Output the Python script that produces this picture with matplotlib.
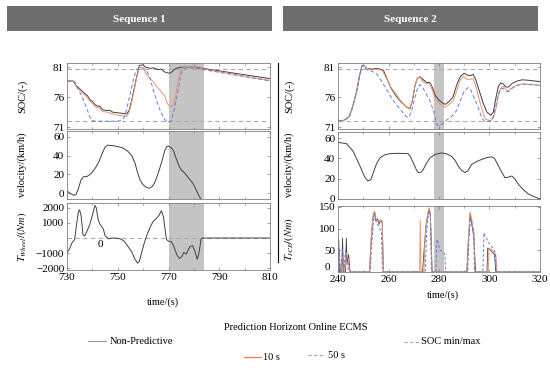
import matplotlib
matplotlib.use("Agg")
from matplotlib import pyplot
from matplotlib.lines import Line2D
from matplotlib.patches import Rectangle
import matplotlib.ticker as ticker

pyplot.rcParams['font.family'] = ['Liberation Serif', 'DejaVu Serif']
pyplot.rcParams['mathtext.fontset'] = 'stix'

# ---- Sequence 1 ----
s1_soc_np_t = [730, 732.5, 733.5, 735, 736, 737, 738, 739, 740, 741, 742, 743, 744, 745.5, 747, 748, 750, 752, 753.5,
               754.5, 755.5, 756.5, 757.5, 758.5, 760, 761, 763, 764, 766, 767, 768.5, 770, 771, 772, 773, 775, 778,
               781, 782, 810]
s1_soc_np = [78.7, 78.7, 78.0, 77.4, 77.0, 76.6, 76.3, 75.6, 75.3, 74.8, 74.5, 74.5, 73.9, 73.8, 73.8, 73.5, 73.4, 73.3,
             73.2, 73.8, 75.5, 77.5, 79.5, 81.3, 81.4, 81.0, 80.8, 80.9, 80.6, 80.7, 80.2, 80.0, 80.1, 80.5, 80.8, 81.0,
             81.0, 81.0, 80.9, 79.1]
s1_soc_10_t = [730, 733, 733.5, 735, 737, 739, 741, 742, 743, 744, 746, 748, 750, 752, 753.5, 754.5, 755.5, 756.5,
               757.5, 758.5, 760, 761, 762.5, 764, 765.5, 767, 768.5, 769.5, 770.5, 771.5, 772.5, 773.5, 774.5, 775.5,
               778, 781, 810]
s1_soc_10 = [78.7, 78.6, 77.9, 77.2, 76.4, 75.4, 74.5, 74.2, 74.2, 73.6, 73.5, 73.2, 73.0, 72.9, 72.8, 73.5, 75.2, 77.2,
             79.3, 80.9, 81.0, 80.0, 79.2, 78.6, 77.7, 77.0, 76.2, 75.0, 74.4, 74.5, 75.5, 78.0, 80.0, 80.9, 81.0, 80.9,
             78.8]
s1_soc_50_t = [730, 733, 734, 735.5, 737, 738.5, 739.5, 741, 746, 750, 751.5, 752.5, 753.5, 755, 756.5, 757.5, 761,
               762.5, 764, 765.5, 767, 768.5, 769.5, 771, 772, 773.5, 775, 776, 778, 781, 810]
s1_soc_50 = [78.7, 78.6, 77.6, 76.5, 75.0, 73.3, 72.2, 72.0, 72.0, 72.0, 72.2, 72.6, 74.0, 76.8, 79.5, 80.7, 80.7, 79.5,
             77.2, 75.2, 73.5, 72.3, 71.8, 72.0, 73.5, 76.5, 80.0, 80.8, 80.9, 80.8, 78.7]
s1_vel_t = [730, 731, 732.5, 733.5, 734.5, 735.5, 736.5, 738, 739.5, 741, 742.5, 744, 745, 746, 748, 750, 752, 754,
            755.5, 756.8, 757.8, 758.8, 760, 761.5, 762.5, 763.5, 764.5, 765.5, 766.5, 767.5, 768.5, 769.3, 770, 771,
            772, 773, 774, 775, 776.5, 778, 779.5, 780.5, 781.5, 782.5, 783]
s1_vel = [2.5, 0.5, -2.0, -1.5, 5, 14, 17.5, 18, 21, 26, 33, 43, 49, 51, 50.5, 49.5, 48, 44.5, 40, 32, 22, 14, 9, 6,
          5.5, 7, 11, 18, 26, 35, 45, 49.5, 50, 48.5, 45, 37, 30, 25, 21, 16, 11, 6, 0, -5, -7]
s1_trq_t = [730, 731, 732, 733, 733.7, 734.5, 735, 735.6, 736.3, 737, 738, 739, 740, 741, 741.5, 742.3, 743, 744.3,
            745, 746.3, 748, 749, 751, 752.5, 754, 755.5, 756.8, 757.8, 758.5, 759.5, 760.5, 761.5, 763, 764, 765,
            766.3, 767.2, 768, 768.7, 769.2, 770, 771.2, 772.2, 773.3, 774.3, 775.3, 776, 777, 777.6, 778.5, 779.5,
            780.5, 781.3, 782, 782.8, 783.3, 810]
s1_trq = [-1000, -700, -300, -100, 800, 1750, 1850, 1400, 200, 150, 500, 900, 1500, 2150, 2000, 1200, 900, 600, 150,
          -50, 0, 0, -50, -200, -550, -900, -1400, -1650, -1550, -900, -300, 200, 800, 1100, 1250, 1500, 1800, 1400,
          500, -100, -200, -250, -600, -1100, -1350, -1200, -950, -1050, -850, -550, -500, -900, -1400, -1000, -100,
          0, 0]
s1_span = (770, 784)
s1_xticks = [730, 750, 770, 790, 810]

# ---- Sequence 2 ----
s2_soc_np_t = [240, 242, 243, 244.5, 245.5, 246.5, 247.5, 248.5, 249.5, 250.5, 251.5, 252.5, 253.5, 254.5, 256.5, 258,
               259.5, 261, 263, 265, 267, 268.5, 269.5, 270.5, 271.5, 272.5, 273.5, 275, 276.5, 277.5, 278.5, 280,
               281.5, 282.5, 284, 285.5, 287, 288.5, 290, 291, 292.5, 293.5, 294.5, 296, 297.5, 299, 300.5, 301.5,
               302.5, 303.5, 304.5, 305.5, 306.5, 307.5, 309, 311, 313, 316, 320]
s2_soc_np = [72.1, 72.1, 72.3, 72.8, 74.0, 75.5, 77.2, 79.5, 81.3, 81.2, 80.6, 80.8, 80.6, 80.8, 80.7, 80.5, 79.0, 77.5,
             76.2, 75.2, 74.4, 74.1, 75.5, 78.0, 79.2, 79.4, 79.0, 78.5, 78.4, 77.5, 76.3, 75.5, 75.0, 74.8, 75.3, 76.0,
             78.0, 79.5, 80.0, 79.7, 79.6, 79.8, 79.0, 77.0, 75.0, 73.5, 73.0, 73.5, 75.8, 77.8, 78.4, 78.2, 77.7, 77.7,
             78.3, 78.7, 78.9, 78.8, 78.6]
s2_soc_10_t = [240, 242, 243, 244.5, 245.5, 246.5, 247.5, 248.5, 249.5, 250.5, 251.5, 252.5, 254, 256, 257.5, 259, 261,
               263, 265, 267, 268.3, 269.5, 270.5, 271.5, 272.5, 273.5, 275, 276.5, 277.5, 278.5, 280, 281.5, 282.5,
               284, 285.5, 287, 288.5, 289.8, 291, 292.5, 293.5, 294.5, 296, 297.5, 298.5, 300.5, 301.5, 302.5, 303.5,
               304.5, 305.5, 306.5, 307.5, 309, 311, 313, 316, 320]
s2_soc_10 = [72.1, 72.1, 72.3, 72.8, 74.0, 75.5, 77.2, 79.5, 81.3, 81.2, 80.6, 80.7, 80.7, 80.6, 80.5, 79.3, 77.6, 76.5,
             75.3, 74.4, 74.0, 75.5, 78.0, 79.2, 79.3, 78.6, 78.3, 78.2, 77.0, 75.8, 75.0, 74.5, 74.3, 74.8, 75.4, 77.0,
             79.0, 79.5, 79.0, 79.0, 79.1, 78.0, 75.5, 73.3, 72.3, 72.1, 72.5, 74.0, 76.2, 77.5, 77.8, 77.3, 77.0, 77.6,
             78.0, 78.2, 78.1, 78.0]
s2_soc_50_t = [240, 242, 243, 244.5, 245.5, 246.5, 247.5, 248.5, 249.5, 250.5, 251.5, 253, 254, 255.5, 257, 259, 261,
               263, 265, 267, 268, 269, 270.5, 271.5, 272.5, 273.5, 275, 276.5, 278, 279, 280, 281.5, 283, 285, 287,
               288.5, 290, 291.5, 292.5, 294, 295.5, 297, 298, 300.5, 301.5, 302.5, 303.5, 304.5, 305.5, 306.5, 307.5,
               309, 311, 313, 316, 320]
s2_soc_50 = [72.1, 72.1, 72.3, 72.8, 74.0, 75.5, 77.2, 79.5, 81.3, 81.2, 80.6, 80.4, 80.2, 79.8, 78.8, 77.5, 76.0, 74.8,
             73.8, 72.8, 72.6, 73.5, 76.0, 77.5, 78.1, 77.6, 76.5, 75.3, 73.5, 71.5, 71.2, 71.6, 72.2, 72.8, 73.8, 75.5,
             77.0, 77.6, 77.3, 75.8, 74.3, 72.5, 72.0, 72.0, 72.8, 74.5, 76.5, 77.5, 77.4, 77.0, 76.9, 77.5, 78.0, 78.2,
             78.1, 78.0]
s2_vel_t = [240, 243.4, 246, 248.7, 250.5, 251.8, 253, 254, 255.3, 256.6, 258.5, 260.6, 264, 267.8, 268.8, 269.8,
            271, 271.8, 273, 273.8, 275, 276.4, 278.5, 281, 283, 285, 286.4, 287.6, 289, 290.3, 291.5, 292.9, 295,
            296.9, 299, 300.9, 302, 302.9, 304.5, 306.1, 307.5, 308.8, 310, 311.4, 313.5, 315.4, 317.5, 319.3, 320]
s2_vel = [55.8, 54.5, 47, 32.4, 22, 17.8, 19, 26, 35, 40.5, 43.5, 44.7, 45, 44.7, 41, 35.7, 29, 26, 26.5, 29.2, 35,
          40.5, 44, 45.4, 44.5, 42, 38, 32.4, 28, 26, 28, 34, 37, 39, 40.8, 41.5, 40, 35.7, 28, 21, 21.5, 22.7, 20,
          14.6, 9, 4.9, 2.5, 0.7, 0.3]
s2_trq_np_t = [240, 240.3, 240.6, 241.5, 241.8, 242.1, 243, 243.3, 243.6, 244.2, 244.8, 252.5, 253, 253.8, 254.5,
               255, 255.7, 256.2, 256.8, 257.5, 258, 273.5, 274.2, 275, 276, 276.6, 277.3, 291, 291.5, 292.3, 293,
               293.8, 294.5, 299, 299.3, 300.5, 302, 302.5, 320]
s2_trq_np = [0, 75, 0, 0, 78, 0, 0, 78, 20, 40, 0, 0, 60, 125, 138, 118, 122, 110, 118, 115, 0, 0, 60, 115, 145, 130,
             0, 0, 60, 135, 110, 80, 0, 0, 55, 50, 40, 0, 0]
s2_trq_10_t = [240, 240.5, 241, 242, 242.5, 243.3, 244, 244.5, 252.5, 253, 254, 254.5, 255.2, 256, 256.7, 257.5, 258,
               272.3, 272.6, 272.9, 274, 274.5, 275.3, 276, 276.5, 277.2, 291.2, 291.7, 292.4, 293, 293.8, 294.2,
               299.5, 299.8, 301, 302.5, 303, 320]
s2_trq_10 = [0, 40, 0, 45, 0, 45, 30, 0, 0, 70, 135, 140, 120, 115, 120, 118, 0, 0, 120, 0, 0, 80, 125, 148, 140, 0,
             0, 80, 138, 120, 90, 0, 0, 55, 50, 40, 0, 0]
s2_trq_50_t = [240, 240.4, 240.8, 241.8, 242.3, 243, 243.6, 244.3, 252.8, 253.3, 254.2, 254.6, 255.3, 256, 256.5,
               257.2, 257.6, 274.5, 275.2, 276, 276.6, 277, 278.8, 279.1, 279.6, 280.3, 281.5, 282.3, 282.6, 291.4,
               291.8, 292.5, 293.2, 293.8, 294, 297.4, 297.8, 298.5, 299.5, 300.5, 301.5, 302.3, 302.7, 320]
s2_trq_50 = [0, 55, 0, 50, 10, 50, 20, 0, 0, 60, 125, 130, 110, 108, 100, 95, 0, 0, 100, 140, 135, 0, 0, 75, 70, 50,
             48, 40, 0, 0, 70, 125, 105, 90, 0, 0, 90, 80, 70, 60, 55, 45, 0, 0]
s2_span = (278, 282)
s2_xticks = [240, 260, 280, 300, 320]

soc_limits = (72.0, 80.7)

c_np = '#404040'
c_10 = '#e9956c'
c_50 = '#6a7be0'
c_lim = '#ababab'
c_span = '#c4c4c4'
lw = 0.7

fig = pyplot.figure(figsize=(5.5, 3.68), dpi=100)
W, H = 550.0, 368.0


def rect(x0, y0, x1, y1):
    return [x0 / W, 1 - y1 / H, (x1 - x0) / W, (y1 - y0) / H]


def style(ax):
    ax.tick_params(direction='in', top=True, right=True, length=2.5, width=0.5, color='#808080',
                   labelsize=8, pad=2)
    ax.tick_params(which='minor', direction='in', top=True, right=True, length=1.5, width=0.5, color='#808080')
    for s in ax.spines.values():
        s.set_color('#808080')
        s.set_linewidth(0.6)


# axes
a1 = fig.add_axes(rect(67, 63, 270, 129))
a2 = fig.add_axes(rect(67, 131, 270, 199))
a3 = fig.add_axes(rect(67, 203, 270, 270))
b1 = fig.add_axes(rect(338, 63, 540, 129))
b2 = fig.add_axes(rect(338, 132, 540, 199))
b3 = fig.add_axes(rect(338, 206, 540, 272))

for ax in (a1, a2, a3):
    ax.axvspan(*s1_span, color=c_span, lw=0, zorder=0)
    ax.set_xlim(730, 810)
    ax.xaxis.set_major_locator(ticker.FixedLocator(s1_xticks))
    ax.xaxis.set_minor_locator(ticker.FixedLocator([740, 760, 780, 800]))
for ax in (b1, b2, b3):
    ax.axvspan(*s2_span, color=c_span, lw=0, zorder=0)
    ax.set_xlim(240, 320)
    ax.xaxis.set_major_locator(ticker.FixedLocator(s2_xticks))
    ax.xaxis.set_minor_locator(ticker.FixedLocator([250, 270, 290, 310]))

# SOC
for ax in (a1, b1):
    for v in soc_limits:
        ax.axhline(v, color=c_lim, lw=0.8, ls=(0, (4, 3)))
    ax.set_ylim(70.7, 81.7)
    ax.set_yticks([71, 76, 81])
a1.plot(s1_soc_np_t, s1_soc_np, color=c_np, lw=lw)
a1.plot(s1_soc_10_t, s1_soc_10, color=c_10, lw=lw)
a1.plot(s1_soc_50_t, s1_soc_50, color=c_50, lw=lw, ls=(0, (4, 2.5)))
b1.plot(s2_soc_np_t, s2_soc_np, color=c_np, lw=lw)
b1.plot(s2_soc_10_t, s2_soc_10, color=c_10, lw=lw)
b1.plot(s2_soc_50_t, s2_soc_50, color=c_50, lw=lw, ls=(0, (4, 2.5)))

# velocity
a2.plot(s1_vel_t, s1_vel, color=c_np, lw=lw)
a2.set_ylim(-6, 66)
b2.plot(s2_vel_t, s2_vel, color=c_np, lw=lw)
b2.set_ylim(0, 66)
for ax in (a2, b2):
    ax.set_yticks([0, 20, 40, 60])

# torque
a3.axhline(0, color=c_lim, lw=0.8, ls=(0, (4, 3)))
a3.plot(s1_trq_t, s1_trq, color=c_np, lw=lw)
a3.set_ylim(-2100, 2300)
a3.set_yticks([-2000, -1000, 1000, 2000])
a3.yaxis.set_major_formatter(ticker.FuncFormatter(lambda v, p: '%d' % v if v >= 0 else '\u2212%d' % -v))
a3.text(743, -450, '0', fontsize=8, ha='center', va='center')

b3.plot(s2_trq_np_t, s2_trq_np, color=c_np, lw=0.6)
b3.plot(s2_trq_10_t, s2_trq_10, color=c_10, lw=lw)
b3.plot(s2_trq_50_t, s2_trq_50, color=c_50, lw=lw, ls=(0, (3, 2)))
b3.set_ylim(0, 152)
b3.set_yticks([0, 50, 100, 150])
b3.set_yticklabels(['', '50', '100', '150'])
fig.text(327 / W, 1 - 267 / H, '0', ha='center', va='center', fontsize=8)

for ax in (a1, a2, b1, b2):
    ax.tick_params(labelbottom=False)
for ax in (a1, a2, a3, b1, b2, b3):
    style(ax)

# y labels
fs = 7.5
for x in (22, 289):
    fig.text(x / W, 1 - 96 / H, 'SOC/(-)', rotation=90, ha='center', va='center', fontsize=fs)
    fig.text(x / W, 1 - 165 / H, 'velocity/(km/h)', rotation=90, ha='center', va='center', fontsize=fs)
fig.text(22 / W, 1 - 237 / H, r'$T_{Wheel}/(Nm)$', rotation=90, ha='center', va='center', fontsize=fs)
fig.text(289 / W, 1 - 239 / H, r'$T_{ICE}/(Nm)$', rotation=90, ha='center', va='center', fontsize=fs)
fig.text(163 / W, 1 - 302 / H, 'time/(s)', ha='center', va='center', fontsize=fs)
fig.text(443 / W, 1 - 295 / H, 'time/(s)', ha='center', va='center', fontsize=fs)

# header bars
for (x0, x1, label) in ((7, 272, 'Sequence 1'), (283, 538, 'Sequence 2')):
    fig.add_artist(Rectangle((x0 / W, 1 - 31 / H), (x1 - x0) / W, 25 / H, transform=fig.transFigure,
                             facecolor='#6e6e6e', edgecolor='none'))
    fig.text((x0 + x1) / 2 / W, 1 - 19 / H, label, ha='center', va='center', fontsize=8,
             color='white', fontweight='bold')

# separator line
fig.add_artist(Line2D([278 / W, 278 / W], [1 - 63 / H, 1 - 262 / H], color='black', lw=0.8))


# legend
def leg(x0, x1, y, color, ls, text, tx, w=0.8):
    fig.add_artist(Line2D([x0 / W, x1 / W], [1 - y / H, 1 - y / H], color=color, lw=w, ls=ls))
    fig.text(tx / W, 1 - y / H, text, ha='left', va='center', fontsize=fs)


leg(88, 106, 341, '#9a9a9a', '-', 'Non-Predictive', 110)
fig.text(296 / W, 1 - 328 / H, 'Prediction Horizont Online ECMS', ha='center', va='center', fontsize=fs)
leg(244, 261, 357, '#e8875a', '-', '10 s', 263, w=1.0)
leg(308, 325, 355, '#9aa3e0', (0, (3, 2)), '50 s', 328)
leg(404, 420, 342, '#a8a8c0', (0, (3, 2)), 'SOC min/max', 421)

fig.savefig('out.png', dpi=100)
